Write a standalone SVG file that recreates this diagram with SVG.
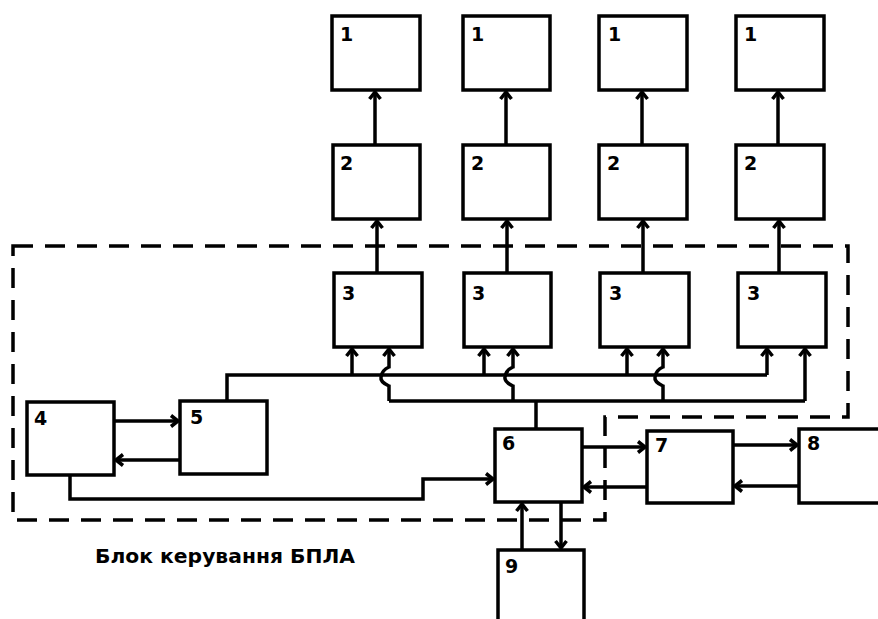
<svg xmlns="http://www.w3.org/2000/svg" width="878" height="619" viewBox="0 0 878 619">
<style>
.box{fill:#fff;stroke:#000;stroke-width:3.5}
.lbl{font-family:"DejaVu Sans",Verdana,sans-serif;font-weight:bold;font-size:19px;fill:#000}
.ln{fill:none;stroke:#000;stroke-width:3.5}
.arr{fill:none;stroke:#000;stroke-width:3.5;marker-end:url(#ah)}
.dash{fill:none;stroke:#000;stroke-width:3.5;stroke-dasharray:20 12}
.cap{font-family:"DejaVu Sans",Verdana,sans-serif;font-weight:bold;font-size:19px;fill:#000}
</style>
<defs>
<marker id="ah" markerUnits="userSpaceOnUse" viewBox="-12 -8 14 16" refX="0" refY="0" markerWidth="14" markerHeight="16" orient="auto" overflow="visible">
<path d="M-7,-5.5 L0,0 L-7,5.5" fill="none" stroke="#000" stroke-width="3.5" stroke-linejoin="miter"/>
</marker>
</defs>
<rect width="878" height="619" fill="#fff"/>
<g id="boundary">
<path class="dash" d="M13,246 H848 V417 H605 V520 H13 Z"/>
</g>
<g id="connectors">
<path class="arr" d="M375,145 V92"/>
<path class="arr" d="M506,145 V92"/>
<path class="arr" d="M642,145 V92"/>
<path class="arr" d="M778,145 V92"/>
<path class="arr" d="M377,273 V221"/>
<path class="arr" d="M507,273 V221"/>
<path class="arr" d="M643,273 V221"/>
<path class="arr" d="M779,273 V221"/>
<path class="ln" d="M227,401 V375 H767"/>
<path class="arr" d="M767,375 V349"/>
<path class="arr" d="M352,375 V349"/>
<path class="arr" d="M484,375 V349"/>
<path class="arr" d="M627,375 V349"/>
<path class="ln" d="M389,401 H805"/>
<path class="arr" d="M805,401 V349"/>
<path class="arr" d="M389,401 V386 Q380,382 381,377 Q382,370 389,367 V349"/>
<path class="arr" d="M513,401 V386 Q504,382 505,377 Q506,370 513,367 V349"/>
<path class="arr" d="M663,401 V386 Q654,382 655,377 Q656,370 663,367 V349"/>
<path class="ln" d="M536,401 V429"/>
<path class="arr" d="M114,421 H178"/>
<path class="arr" d="M180,460 H116"/>
<path class="arr" d="M70,475 V499 H423 V479 H493"/>
<path class="arr" d="M582,447 H645"/>
<path class="arr" d="M647,487 H584"/>
<path class="arr" d="M733,445 H797"/>
<path class="arr" d="M799,486 H735"/>
<path class="arr" d="M522,550 V504"/>
<path class="arr" d="M561,502 V548"/>
</g>
<g id="n1a"><rect class="box" x="332" y="16" width="88" height="74"/><text class="lbl" x="340" y="41">1</text></g>
<g id="n1b"><rect class="box" x="463" y="16" width="87" height="74"/><text class="lbl" x="471" y="41">1</text></g>
<g id="n1c"><rect class="box" x="599" y="16" width="88" height="74"/><text class="lbl" x="608" y="41">1</text></g>
<g id="n1d"><rect class="box" x="736" y="16" width="88" height="74"/><text class="lbl" x="744" y="41">1</text></g>
<g id="n2a"><rect class="box" x="333" y="145" width="87" height="74"/><text class="lbl" x="340" y="170">2</text></g>
<g id="n2b"><rect class="box" x="463" y="145" width="87" height="74"/><text class="lbl" x="471" y="170">2</text></g>
<g id="n2c"><rect class="box" x="599" y="145" width="88" height="74"/><text class="lbl" x="607" y="170">2</text></g>
<g id="n2d"><rect class="box" x="736" y="145" width="88" height="74"/><text class="lbl" x="744" y="170">2</text></g>
<g id="n3a"><rect class="box" x="334" y="273" width="88" height="74"/><text class="lbl" x="342" y="300">3</text></g>
<g id="n3b"><rect class="box" x="464" y="273" width="87" height="74"/><text class="lbl" x="472" y="300">3</text></g>
<g id="n3c"><rect class="box" x="600" y="273" width="89" height="74"/><text class="lbl" x="609" y="300">3</text></g>
<g id="n3d"><rect class="box" x="738" y="273" width="88" height="74"/><text class="lbl" x="747" y="300">3</text></g>
<g id="n4"><rect class="box" x="27" y="402" width="87" height="73"/><text class="lbl" x="34" y="425">4</text></g>
<g id="n5"><rect class="box" x="180" y="401" width="87" height="73"/><text class="lbl" x="190" y="424">5</text></g>
<g id="n6"><rect class="box" x="495" y="429" width="87" height="73"/><text class="lbl" x="502" y="450">6</text></g>
<g id="n7"><rect class="box" x="647" y="431" width="86" height="72"/><text class="lbl" x="655" y="452">7</text></g>
<g id="n8"><rect class="box" x="799" y="429" width="95" height="74"/><text class="lbl" x="807" y="450">8</text></g>
<g id="n9"><rect class="box" x="498" y="550" width="86" height="80"/><text class="lbl" x="505" y="573">9</text></g>
<text class="cap" x="95" y="563" textLength="260" lengthAdjust="spacingAndGlyphs">Блок керування БПЛА</text>
</svg>
